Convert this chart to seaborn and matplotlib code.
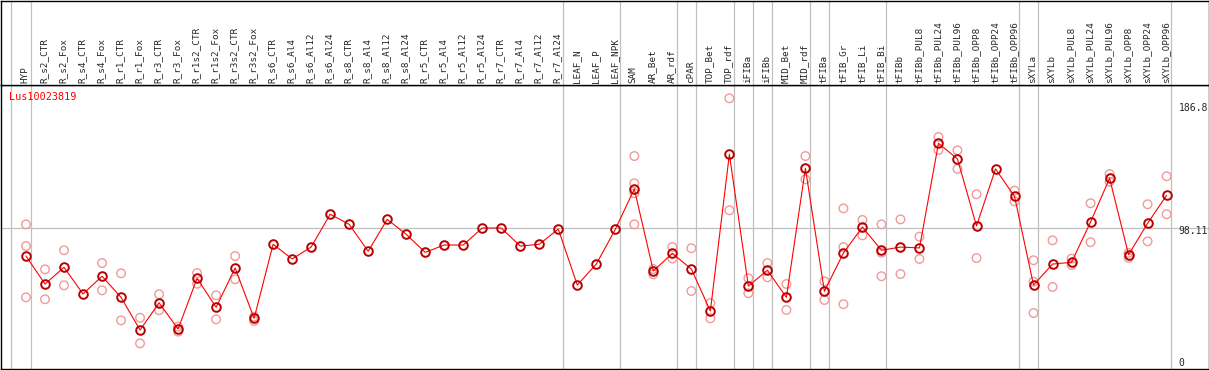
import numpy as np, pandas as pd
import matplotlib as mpl, matplotlib.pyplot as plt
import seaborn as sns

sns.set_style('white')
mpl.rcParams['font.family'] = ['DejaVu Sans Mono', 'DejaVu Sans']

#%% data
gene = 'Lus10023819'
samples = ['HYP', 'R_s2_CTR', 'R_s2_Fox', 'R_s4_CTR', 'R_s4_Fox', 'R_r1_CTR', 'R_r1_Fox',
           'R_r3_CTR', 'R_r3_Fox', 'R_r1s2_CTR', 'R_r1s2_Fox', 'R_r3s2_CTR', 'R_r3s2_Fox',
           'R_s6_CTR', 'R_s6_Al4', 'R_s6_Al12', 'R_s6_Al24', 'R_s8_CTR', 'R_s8_Al4',
           'R_s8_Al12', 'R_s8_Al24', 'R_r5_CTR', 'R_r5_Al4', 'R_r5_Al12', 'R_r5_Al24',
           'R_r7_CTR', 'R_r7_Al4', 'R_r7_Al12', 'R_r7_Al24', 'LEAF_N', 'LEAF_P', 'LEAF_NPK',
           'SAM', 'AR_Bet', 'AR_rdf', 'cPAR', 'TOP_Bet', 'TOP_rdf', 'iFIBa', 'iFIBb',
           'MID_Bet', 'MID_rdf', 'tFIBa', 'tFIB_Gr', 'tFIB_Li', 'tFIB_Bi', 'tFIBb',
           'tFIBb_PUL8', 'tFIBb_PUL24', 'tFIBb_PUL96', 'tFIBb_OPP8', 'tFIBb_OPP24',
           'tFIBb_OPP96', 'sXYLa', 'sXYLb', 'sXYLb_PUL8', 'sXYLb_PUL24', 'sXYLb_PUL96',
           'sXYLb_OPP8', 'sXYLb_OPP24', 'sXYLb_OPP96']

means = [79.2, 60.1, 71.5, 53.3, 65.4, 51.0, 28.7, 47.3, 29.4, 64.0, 44.2, 71.0, 36.7,
         87.2, 77.2, 85.3, 107.7, 100.8, 82.4, 104.2, 94.0, 81.7, 86.7, 86.7, 98.3,
         98.3, 86.0, 87.2, 97.6, 59.4, 73.7, 97.4,
         124.9, 69.0, 81.0, 70.3, 41.7, 148.6, 58.7, 69.5, 51.0, 139.0, 55.1, 81.3,
         99.0, 83.1, 85.3, 84.7, 156.1, 145.4, 99.7, 138.6, 119.9,
         59.4, 73.7, 74.9, 102.4, 132.2, 80.1, 101.5, 120.6]

replicates = [[100.8, 86.0, 51.0], [70.1, 49.7], [83.1, 59.2], [], [74.4, 55.8],
              [67.4, 35.3], [37.1, 19.6], [53.1, 42.2], [27.6, 31.0], [67.6, 60.3],
              [52.4, 36.0], [79.2, 63.3], [37.8, 34.9],
              [], [], [], [], [], [], [], [], [], [], [], [], [], [], [], [], [], [], [],
              [147.4, 128.8, 122.0, 100.8], [70.3, 66.7], [85.3, 77.4], [84.5, 55.3],
              [47.1, 36.7], [186.8, 110.4], [64.0, 53.8], [74.4, 64.7], [60.1, 42.4],
              [147.4, 131.5], [61.9, 49.2], [111.7, 85.3, 46.3], [103.8, 93.3],
              [100.8, 81.5, 65.4], [104.2, 66.9], [92.4, 77.2], [160.4, 151.5],
              [151.3, 138.6], [121.3, 77.8], [], [123.8, 116.5],
              [76.3, 61.7, 40.3], [89.9, 58.1], [77.4, 73.1], [115.2, 88.6],
              [135.1, 129.9], [78.0, 81.3], [114.5, 89.2], [133.6, 107.7]]

group_ends = ['HYP', 'R_r7_Al24', 'LEAF_NPK', 'AR_rdf', 'cPAR', 'TOP_rdf', 'iFIBa', 'iFIBb',
              'MID_rdf', 'tFIBa', 'tFIB_Bi', 'tFIBb_OPP96', 'sXYLa', 'sXYLb_OPP96']
y_max, y_mean = 186.8, 98.11

#%% tables
idx = np.arange(len(samples))
mean_df = pd.DataFrame({'pos': idx, 'value': means})
rep_df = pd.DataFrame([(i, v) for i, reps in enumerate(replicates) for v in reps],
                      columns=['pos', 'value'])

#%% figure
W, H = 1209, 370
fig = plt.figure(figsize=(W/100, H/100), dpi=100)
head_px, bot_px, left_px, right_px = 85, 369, 1, 1208.5
ax = fig.add_axes([left_px/W, (H-bot_px)/H, (right_px-left_px)/W, (bot_px-head_px)/H])
axh = fig.add_axes([left_px/W, (H-head_px)/H, (right_px-left_px)/W, (head_px-0.7)/H])

x0, dx = 26, 19.01
xlim = ((left_px-x0)/dx, (right_px-x0)/dx)
y0, dy = 372.1, 1.4658
ylim = ((y0-bot_px)/dy, (y0-head_px)/dy)

grey = '#c0c0c0'
vlines = [-0.805] + [samples.index(s) + 0.24 for s in group_ends]
for a in (ax, axh):
    for v in vlines:
        a.axvline(v, color=grey, lw=0.9, zorder=0)
    a.set_xlim(*xlim)
    a.set_xticks([]); a.set_yticks([])
    for sp in a.spines.values():
        sp.set_color('black'); sp.set_linewidth(1.0)
ax.axhline(y_mean, color=grey, lw=0.9, zorder=0)
ax.set_ylim(*ylim)
axh.set_ylim(0, 1)

sns.scatterplot(data=rep_df, x='pos', y='value', ax=ax, marker='o', s=38,
                facecolor='none', edgecolor='#f09a9a', linewidth=1.0, zorder=2)
sns.lineplot(data=mean_df, x='pos', y='value', ax=ax, color='red', lw=0.8,
             marker='o', markersize=6.2, markerfacecolor='none',
             markeredgecolor='#b80000', markeredgewidth=1.4, zorder=3)
ax.set_xlabel(''); ax.set_ylabel('')

for i, s in enumerate(samples):
    axh.text(i - 0.05, 0.025, s, rotation=90, ha='center', va='bottom', fontsize=6.7)

ax.text(-0.88, (y0-96.5)/dy, gene, color='red', fontsize=7.3, ha='left', va='center')
xr = (1178.5 - x0)/dx
ax.text(xr, (y0-107.7)/dy, f'{y_max}', fontsize=7, ha='left', va='center')
ax.text(xr, (y0-231.5)/dy, f'{y_mean}', fontsize=7, ha='left', va='center')
ax.text(xr, (y0-362.7)/dy, '0', fontsize=7, ha='left', va='center')

fig.savefig('out.png', dpi=100, facecolor='white')
